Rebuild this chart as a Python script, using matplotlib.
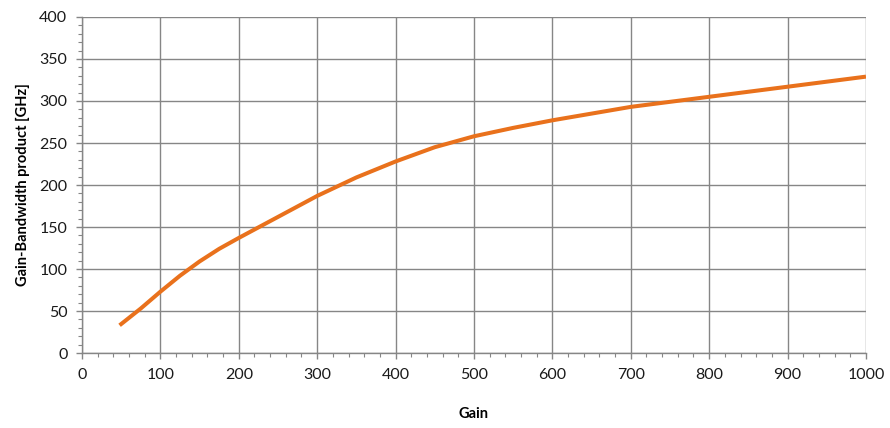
import matplotlib
matplotlib.use("Agg")
import matplotlib.pyplot as plt
from matplotlib.ticker import MultipleLocator

# values
gain = [48, 75, 100, 125, 150, 175, 200, 250, 300, 350, 400, 450, 500,
        550, 600, 650, 700, 750, 800, 850, 900, 950, 1000]
gbp_ghz = [33, 53, 73, 92, 109, 124, 137, 162, 187, 209, 228, 245, 258,
           268, 277, 285, 293, 299, 305, 311, 317, 323, 329]

x_ticks = list(range(0, 1001, 100))
y_ticks = list(range(0, 401, 50))

plt.rcParams['font.family'] = ['Lato', 'DejaVu Sans']

fig = plt.figure(figsize=(8.9, 4.28), dpi=100)
ax = fig.add_axes([0.0921, 0.1752, 0.8809, 0.7851])

grid_col = "#868686"
ax.plot(gain, gbp_ghz, color="#E9711C", lw=2.9, solid_capstyle="butt",
        solid_joinstyle="round", zorder=3)

ax.set_xlim(0, 1000)
ax.set_ylim(0, 400)
ax.set_xticks(x_ticks)
ax.set_yticks(y_ticks)
ax.xaxis.set_minor_locator(MultipleLocator(20))
ax.yaxis.set_minor_locator(MultipleLocator(10))
ax.grid(True, which="major", color=grid_col, lw=1.0)

for s in ["top", "right"]:
    ax.spines[s].set_visible(False)
for s in ["left", "bottom"]:
    ax.spines[s].set_color(grid_col)
    ax.spines[s].set_linewidth(1.0)

ax.tick_params(which="major", direction="out", length=4.5, width=1.0,
               color=grid_col, labelsize=11.5, labelcolor="#1a1a1a", pad=6)
ax.tick_params(which="minor", direction="out", length=3, width=0.8, color=grid_col)

ax.set_xlabel("Gain", fontsize=10.5, fontweight="bold", labelpad=18)
ax.set_ylabel("Gain-Bandwidth product [GHz]", fontsize=10.5, fontweight="bold", labelpad=7)

fig.savefig("out.png", dpi=100)
